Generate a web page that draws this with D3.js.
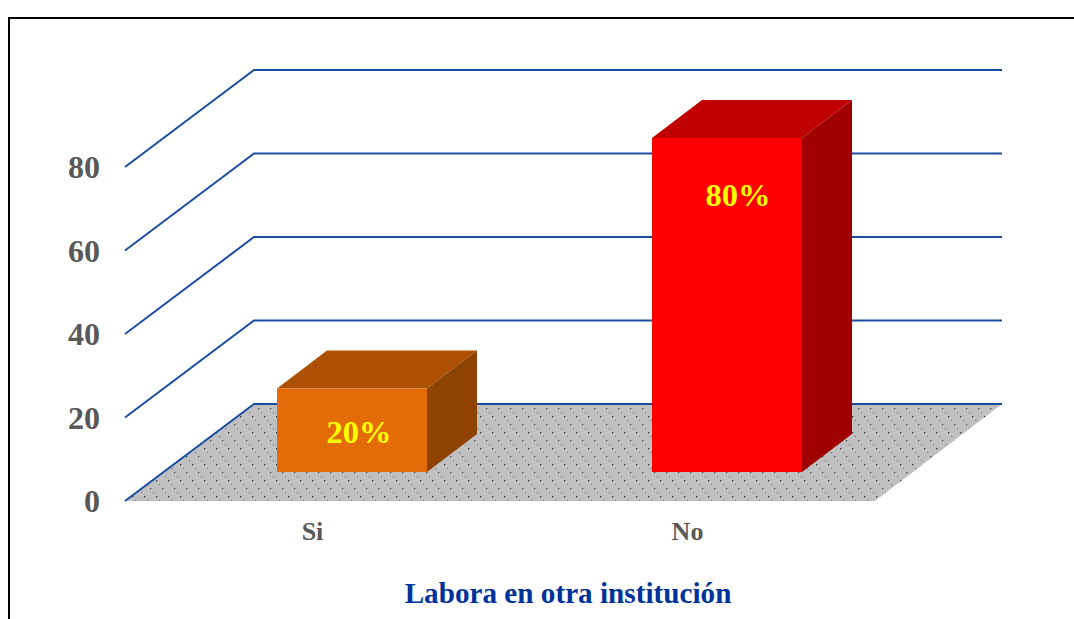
<!DOCTYPE html>
<html>
<head>
<meta charset="utf-8">
<script src="https://cdn.jsdelivr.net/npm/d3@7"></script>
<style>
  html, body { margin: 0; padding: 0; background: #fff; overflow: hidden; }
  text { font-family: "Liberation Serif", serif; font-weight: bold; }
</style>
</head>
<body>
<div id="chart"></div>
<script>
let w = 1074; let h = 619;

// data
let categories = ["Si", "No"];
let values = [20, 80];
let valueLabels = ["20%", "80%"];
let yTicks = [0, 20, 40, 60, 80];
let barFront = ["#e36c09", "#ff0000"];
let barTop = ["#ac5104", "#c00000"];
let barSide = ["#8e4303", "#a00000"];
let axisTitle = "Labora en otra institución";

let graph = d3.select("#chart").append("svg").attr("width", w).attr("height", h);

// scales
let xScale = d3.scaleBand().domain(categories).range([125, 875]);
let yScale = d3.scaleLinear().domain([0, 80]).range([501, 167]);

// 3d offsets
let depthX = 129; let depthY = -97;
let barW = 150;
let barOffX = 39.5; let barOffY = -29;
let dx = 50; let dy = -38;

// floor pattern, diagonal rows of dots
let pat = graph.append("defs").append("pattern")
  .attr("id", "floorDots")
  .attr("patternUnits", "userSpaceOnUse")
  .attr("width", 12).attr("height", 16);
pat.append("rect").attr("width", 12).attr("height", 16).attr("fill", "#c0c0c0");
[[0, 0, "#333"], [3, 4, "#777"], [6, 8, "#444"], [9, 12, "#888"]].forEach(q => {
  pat.append("rect").attr("x", q[0]).attr("y", q[1]).attr("width", 1.3).attr("height", 1.3).attr("fill", q[2]);
});

// outer frame
graph.append("path")
  .attr("d", "M9,619V18H1074")
  .attr("fill", "none").attr("stroke", "#000").attr("stroke-width", 2);

// floor
let x0 = xScale.range()[0]; let x1 = xScale.range()[1]; let y0 = yScale(0);
graph.append("path")
  .attr("d", `M${x0},${y0}L${x0 + depthX},${y0 + depthY}H${x1 + depthX - 2}L${x1},${y0}Z`)
  .attr("fill", "url(#floorDots)");

// gridlines, left wall and back wall
graph.append("g").selectAll("path").data(yTicks).enter().append("path")
  .attr("d", d => `M${x0},${yScale(d)}L${x0 + depthX},${yScale(d) + depthY}H${x1 + depthX - 2}`)
  .attr("fill", "none")
  .attr("stroke", "#1c4ba0")
  .attr("stroke-width", 2);

// bars
let bars = graph.append("g").selectAll("g").data(categories).enter().append("g");
let bx = (c) => xScale(c) + xScale.bandwidth() / 2 - barW / 2 + barOffX;
let by = (v) => yScale(v) + barOffY;

bars.append("path")
  .attr("d", (c, i) => `M${bx(c)},${by(values[i])}l${dx},${dy}h${barW}l${-dx},${-dy}Z`)
  .attr("fill", (c, i) => barTop[i]);
bars.append("path")
  .attr("d", (c, i) => `M${bx(c) + barW},${by(values[i])}l${dx},${dy}V${by(0) + dy}l${-dx},${-dy}Z`)
  .attr("fill", (c, i) => barSide[i]);
bars.append("rect")
  .attr("x", c => bx(c))
  .attr("y", (c, i) => by(values[i]))
  .attr("width", barW)
  .attr("height", (c, i) => by(0) - by(values[i]))
  .attr("fill", (c, i) => barFront[i]);

// value labels
bars.append("text")
  .attr("x", (c, i) => bx(c) + barW / 2 + (i == 0 ? 7 : 11))
  .attr("y", (c, i) => i == 0 ? 443 : 206)
  .attr("text-anchor", "middle")
  .attr("font-size", 32.5)
  .attr("fill", "#ffff00")
  .text((c, i) => valueLabels[i]);

// axes
let yAxis = graph.append("g")
  .attr("transform", `translate(${x0}, 0.5)`)
  .call(d3.axisLeft(yScale).tickValues(yTicks).tickSize(0).tickPadding(25));
yAxis.select(".domain").remove();
yAxis.selectAll("text")
  .attr("fill", "#595959")
  .attr("font-size", 32)
  .style("font-family", '"Liberation Serif", serif');

let xAxis = graph.append("g")
  .attr("transform", "translate(0, 522)")
  .call(d3.axisBottom(xScale).tickSize(0).tickPadding(0));
xAxis.select(".domain").remove();
xAxis.selectAll("text")
  .attr("fill", "#595959")
  .attr("font-size", 26)
  .style("font-family", '"Liberation Serif", serif');

graph.append("text")
  .attr("x", 568)
  .attr("y", 603)
  .attr("text-anchor", "middle")
  .attr("font-size", 29.2)
  .attr("fill", "#003399")
  .text(axisTitle);
</script>
</body>
</html>
